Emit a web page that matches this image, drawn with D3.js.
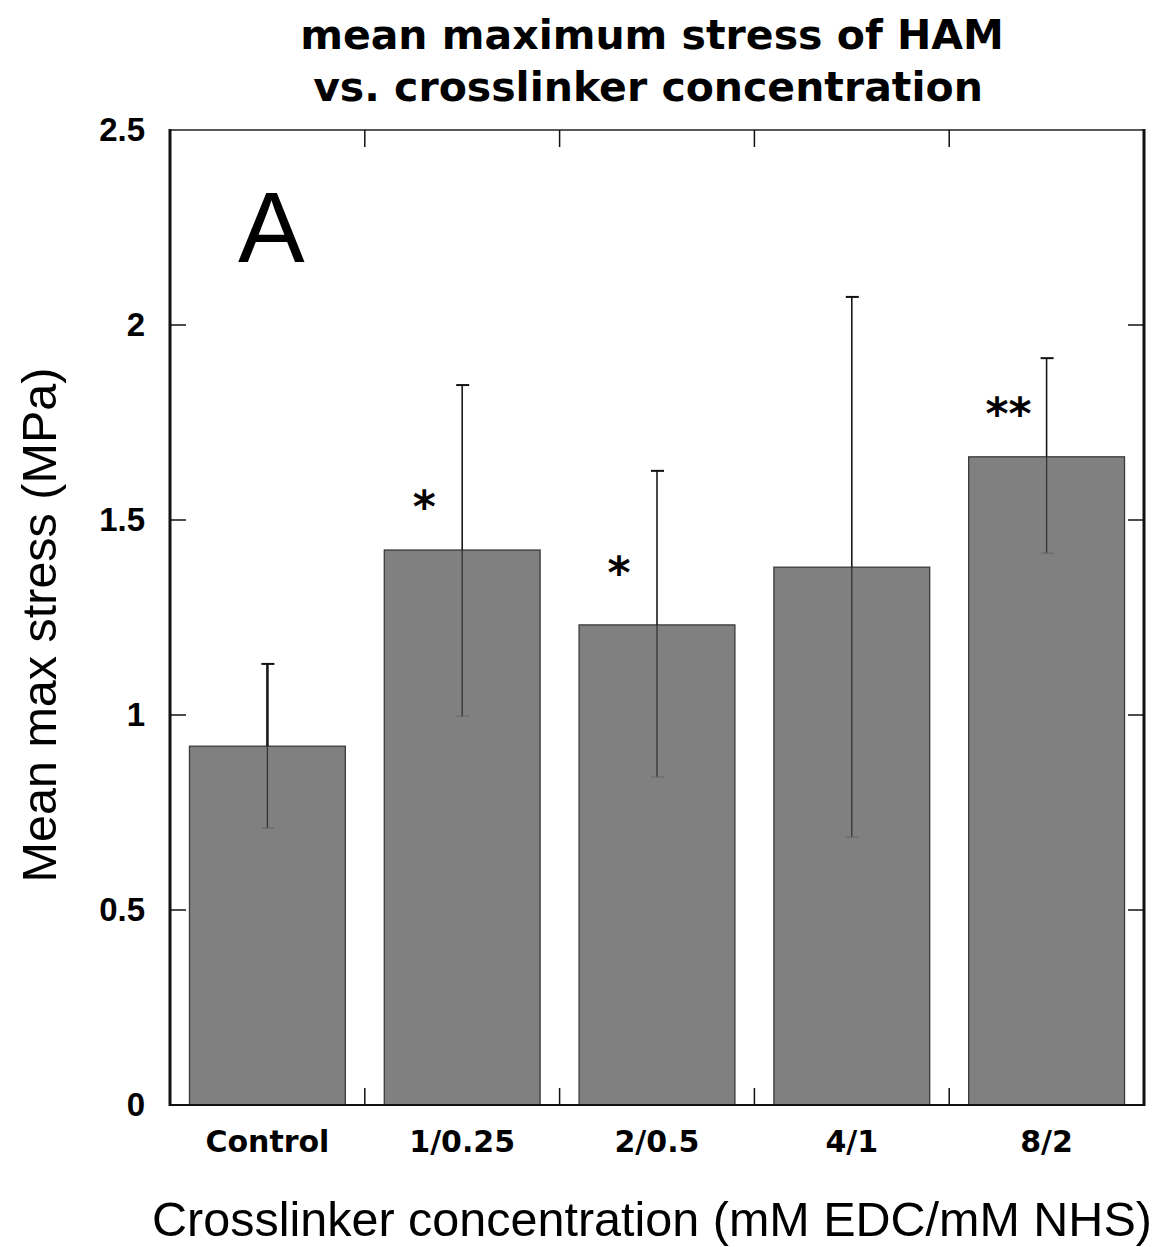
<!DOCTYPE html>
<html><head><meta charset="utf-8">
<script src="https://cdn.jsdelivr.net/npm/d3@7"></script>
<style>body{margin:0;background:#fff}</style>
</head><body>
<svg id="c" width="1163" height="1247"></svg>
<script>
const categories = ["Control", "1/0.25", "2/0.5", "4/1", "8/2"];
const means = [0.92, 1.423, 1.231, 1.379, 1.662];
const errUpper = [1.131, 1.846, 1.626, 2.072, 1.915];
const errLower = [0.71, 0.997, 0.841, 0.687, 1.415];
const stars = ["", "*", "*", "", "**"];
const starLevel = [null, 1.551, 1.382, null, 1.79];
const yTicks = [0, 0.5, 1, 1.5, 2, 2.5];
const yTickLabels = ["0", "0.5", "1", "1.5", "2", "2.5"];

const svg = d3.select("#c");
const L = 170, R = 1144, T = 130, B = 1105;
const font = "'Liberation Sans', Arial, sans-serif";
const wide = "'DejaVu Sans', sans-serif";

const x = d3.scaleBand().domain(categories).range([L, R]).paddingInner(0.2).paddingOuter(0.1);
const xb = d3.scalePoint().domain(d3.range(categories.length + 1)).range([L, R]);
const y = d3.scaleLinear().domain([0, 2.5]).range([B, T]);
const cx = d => x(d) + x.bandwidth() / 2;

// bars
svg.selectAll("rect.bar").data(categories).join("rect")
  .attr("x", d => x(d)).attr("y", (d, i) => y(means[i]))
  .attr("width", x.bandwidth()).attr("height", (d, i) => y(0) - y(means[i]))
  .attr("fill", "#808080").attr("stroke", "#3a3a3a").attr("stroke-width", 1.3);

// error bars
svg.selectAll("line.stemU").data(categories).join("line")
  .attr("x1", cx).attr("x2", cx)
  .attr("y1", (d, i) => y(errUpper[i])).attr("y2", (d, i) => y(means[i]))
  .attr("stroke", "#1a1a1a").attr("stroke-width", (d, i) => i === 0 ? 2.6 : 1.6);
svg.selectAll("line.stemL").data(categories).join("line")
  .attr("x1", cx).attr("x2", cx)
  .attr("y1", (d, i) => y(means[i])).attr("y2", (d, i) => y(errLower[i]))
  .attr("stroke", "#333").attr("stroke-width", 1.3);
svg.selectAll("line.capU").data(categories).join("line")
  .attr("x1", d => cx(d) - 6).attr("x2", d => cx(d) + 7)
  .attr("y1", (d, i) => y(errUpper[i])).attr("y2", (d, i) => y(errUpper[i]))
  .attr("stroke", "#111").attr("stroke-width", 2);
svg.selectAll("line.capL").data(categories).join("line")
  .attr("x1", d => cx(d) - 6).attr("x2", d => cx(d) + 7)
  .attr("y1", (d, i) => y(errLower[i])).attr("y2", (d, i) => y(errLower[i]))
  .attr("stroke", "#666").attr("stroke-width", 1);

// significance stars
svg.selectAll("text.star").data(categories.filter((d, i) => stars[i])).join("text")
  .attr("x", d => cx(d) - 38)
  .attr("y", d => y(starLevel[categories.indexOf(d)]) + 22)
  .attr("text-anchor", "middle").attr("font-family", wide).attr("font-weight", "bold")
  .attr("font-size", 44).text(d => stars[categories.indexOf(d)]);

// frame
svg.append("line").attr("x1", L).attr("x2", R).attr("y1", T).attr("y2", T).attr("stroke", "#222").attr("stroke-width", 1.5);
svg.append("line").attr("x1", L).attr("x2", R + 1).attr("y1", B).attr("y2", B).attr("stroke", "#111").attr("stroke-width", 2);
svg.append("line").attr("x1", L).attr("x2", L).attr("y1", T - 1).attr("y2", B + 1).attr("stroke", "#111").attr("stroke-width", 3);
svg.append("line").attr("x1", R).attr("x2", R).attr("y1", T - 1).attr("y2", B + 1).attr("stroke", "#111").attr("stroke-width", 3);

// y ticks (inward, both sides)
yTicks.slice(1, -1).forEach(v => {
  svg.append("line").attr("x1", L).attr("x2", L + 16).attr("y1", y(v)).attr("y2", y(v)).attr("stroke", "#111").attr("stroke-width", 1.5);
  svg.append("line").attr("x1", R - 16).attr("x2", R).attr("y1", y(v)).attr("y2", y(v)).attr("stroke", "#111").attr("stroke-width", 1.5);
});
svg.selectAll("text.yl").data(yTicks).join("text")
  .attr("x", 145).attr("y", d => y(d) + 11).attr("text-anchor", "end")
  .attr("font-family", font).attr("font-weight", "bold").attr("font-size", 33)
  .text((d, i) => yTickLabels[i]);

// x ticks at band boundaries (top and bottom, inward)
d3.range(1, categories.length).forEach(k => {
  const xx = xb(k);
  svg.append("line").attr("x1", xx).attr("x2", xx).attr("y1", T).attr("y2", T + 17).attr("stroke", "#111").attr("stroke-width", 1.5);
  svg.append("line").attr("x1", xx).attr("x2", xx).attr("y1", B - 17).attr("y2", B).attr("stroke", "#111").attr("stroke-width", 1.5);
});
svg.selectAll("text.xl").data(categories).join("text")
  .attr("x", cx).attr("y", 1152).attr("text-anchor", "middle")
  .attr("font-family", wide).attr("font-weight", "bold").attr("font-size", 30)
  .text(d => d);

// panel letter
svg.append("text").attr("x", 238).attr("y", 262).attr("font-family", font).attr("font-size", 100).text("A");

// titles
svg.append("text").attr("x", 652).attr("y", 49).attr("text-anchor", "middle")
  .attr("font-family", wide).attr("font-weight", "bold").attr("font-size", 41).text("mean maximum stress of HAM");
svg.append("text").attr("x", 648).attr("y", 101).attr("text-anchor", "middle")
  .attr("font-family", wide).attr("font-weight", "bold").attr("font-size", 41).text("vs. crosslinker concentration");
svg.append("text").attr("x", 652).attr("y", 1236).attr("text-anchor", "middle")
  .attr("font-family", font).attr("font-size", 48.5).text("Crosslinker concentration (mM EDC/mM NHS)");
svg.append("text").attr("transform", "translate(56,625) rotate(-90)").attr("text-anchor", "middle")
  .attr("font-family", font).attr("font-size", 48.5).text("Mean max stress (MPa)");
</script>
</body></html>
